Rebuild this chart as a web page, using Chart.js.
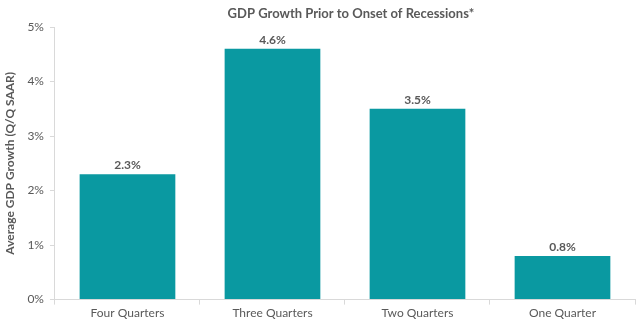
<!DOCTYPE html>
<html>
<head>
<meta charset="utf-8">
<script src="https://cdn.jsdelivr.net/npm/chart.js@4"></script>
<style>
  html, body { margin: 0; padding: 0; background: #fff; }
  #wrap { width: 640px; height: 321px; }
</style>
</head>
<body>
<div id="wrap"><canvas id="gdp"></canvas></div>
<script>
/* GDP growth before recessions */

const categories = ['Four Quarters', 'Three Quarters', 'Two Quarters', 'One Quarter'];
const growthPct  = [2.3, 4.6, 3.5, 0.8];
const yTicks     = [0, 1, 2, 3, 4, 5];
const chartTitle = 'GDP Growth Prior to Onset of Recessions*';

const BAR_COLOR  = '#0A99A1';
const TEXT_COLOR = '#595959';
const AXIS_COLOR = '#D9D9D9';
const FONT       = "Lato, 'Open Sans', sans-serif";

/* value labels above bars + title centred over plot area */
const barLabels = {
  id: 'barLabels',
  afterDatasetsDraw(chart) {
    const ctx  = chart.ctx;
    const meta = chart.getDatasetMeta(0);
    const area = chart.chartArea;
    ctx.save();
    ctx.font = `bold 12px ${FONT}`;
    ctx.fillStyle = TEXT_COLOR;
    ctx.textAlign = 'center';
    ctx.textBaseline = 'bottom';
    meta.data.forEach((bar, i) => {
      ctx.fillText(growthPct[i].toFixed(1) + '%', bar.x, bar.y - 3);
    });
    ctx.font = `bold 13px ${FONT}`;
    ctx.textBaseline = 'middle';
    ctx.fillText(chartTitle, (area.left + area.right) / 2 + 6, 14);
    ctx.restore();
  },
};

new Chart(document.getElementById('gdp'), {
  type: 'bar',
  data: {
    labels: categories,
    datasets: [{
      data:            growthPct,
      backgroundColor: BAR_COLOR,
      categoryPercentage: 0.66,
      barPercentage:      1,
    }],
  },
  options: {
    responsive: true,
    maintainAspectRatio: false,
    animation: false,
    layout: { padding: { left: 3, right: 5, top: 27, bottom: 0 } },
    plugins: {
      legend:  { display: false },
      tooltip: { enabled: false },
      title:   { display: false },
    },
    scales: {
      x: {
        grid:   { display: true, drawOnChartArea: false, color: AXIS_COLOR, tickLength: 5, offset: true },
        border: { color: AXIS_COLOR },
        ticks:  { color: TEXT_COLOR, font: { family: FONT, size: 12 }, padding: 1 },
      },
      y: {
        min: 0,
        max: 5,
        afterBuildTicks: axis => { axis.ticks = yTicks.map(v => ({ value: v })); },
        grid:   { display: true, drawOnChartArea: false, color: AXIS_COLOR, tickLength: 5 },
        border: { color: AXIS_COLOR },
        ticks:  { color: TEXT_COLOR, font: { family: FONT, size: 12 }, padding: 6,
                  callback: v => v + '%' },
        title:  { display: true, text: 'Average GDP Growth (Q/Q SAAR)', color: TEXT_COLOR,
                  font: { family: FONT, size: 12, weight: 'bold' }, padding: { top: 0, bottom: 4 } },
      },
    },
  },
  plugins: [barLabels],
});
</script>
</body>
</html>
